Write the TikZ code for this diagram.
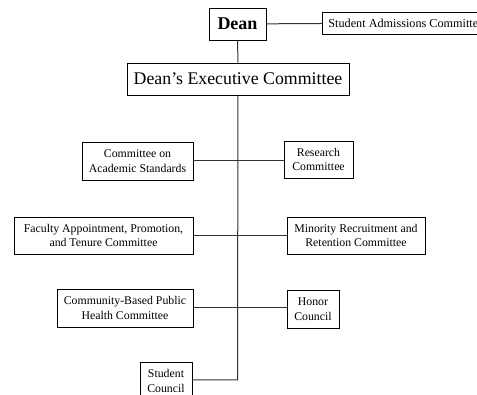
\documentclass[tikz,border=0pt]{standalone}
\usepackage{fontspec}
\setmainfont{Liberation Serif}
\usepackage{tikz}
\usetikzlibrary{positioning}

\begin{document}
\begin{tikzpicture}[
  x=1pt, y=-1pt,
  unit/.style={draw, line width=0.9pt, align=center, inner sep=1pt, font=\fontsize{11.8}{14.5}\selectfont},
  link/.style={draw=black!80, line width=1pt}
]
  \useasboundingbox (0,0) rectangle (477,395);

  \node[unit, minimum width=57pt, minimum height=32pt, font=\fontsize{18}{20}\selectfont\bfseries] (Dean) at (237.5,24) {Dean};
  \node[unit, anchor=west, minimum height=22pt, inner xsep=6pt, font=\fontsize{12.2}{13}\selectfont] (SAC) at (322,23) {Student Admissions Committee};
  \node[unit, minimum width=222pt, minimum height=32pt, font=\fontsize{17.8}{20}\selectfont] (DEC) at (238,79) {Dean's Executive Committee};

  \node[unit, minimum width=111pt, minimum height=38pt] (CAS) at (137.5,161) {Committee on\\Academic Standards};
  \node[unit, minimum width=69pt, minimum height=37pt] (RC) at (318.5,159.5) {Research\\Committee};
  \node[unit, minimum width=179pt, minimum height=37pt] (FAPT) at (103.5,235.5) {Faculty Appointment, Promotion,\\and Tenure Committee};
  \node[unit, minimum width=138pt, minimum height=37pt] (MRR) at (356,235.5) {Minority Recruitment and\\Retention Committee};
  \node[unit, minimum width=136pt, minimum height=38pt] (CBPH) at (125,308) {Community-Based Public\\Health Committee};
  \node[unit, minimum width=52pt, minimum height=38pt] (HC) at (313,309) {Honor\\Council};
  \node[unit, minimum width=52pt, minimum height=38pt] (SC) at (166,381) {Student\\Council};

  \coordinate (end) at (237.5,380);

  \draw[link] (Dean) -- (SAC);
  \draw[link] (Dean) -- (DEC);
  \draw[link] (DEC) -- (end) -- (SC.east |- end);
  \draw[link] (CAS.east) -- (CAS.east -| RC.west);
  \draw[link] (FAPT) -- (MRR);
  \draw[link] (CBPH.east) -- (CBPH.east -| HC.west);
\end{tikzpicture}
\end{document}
